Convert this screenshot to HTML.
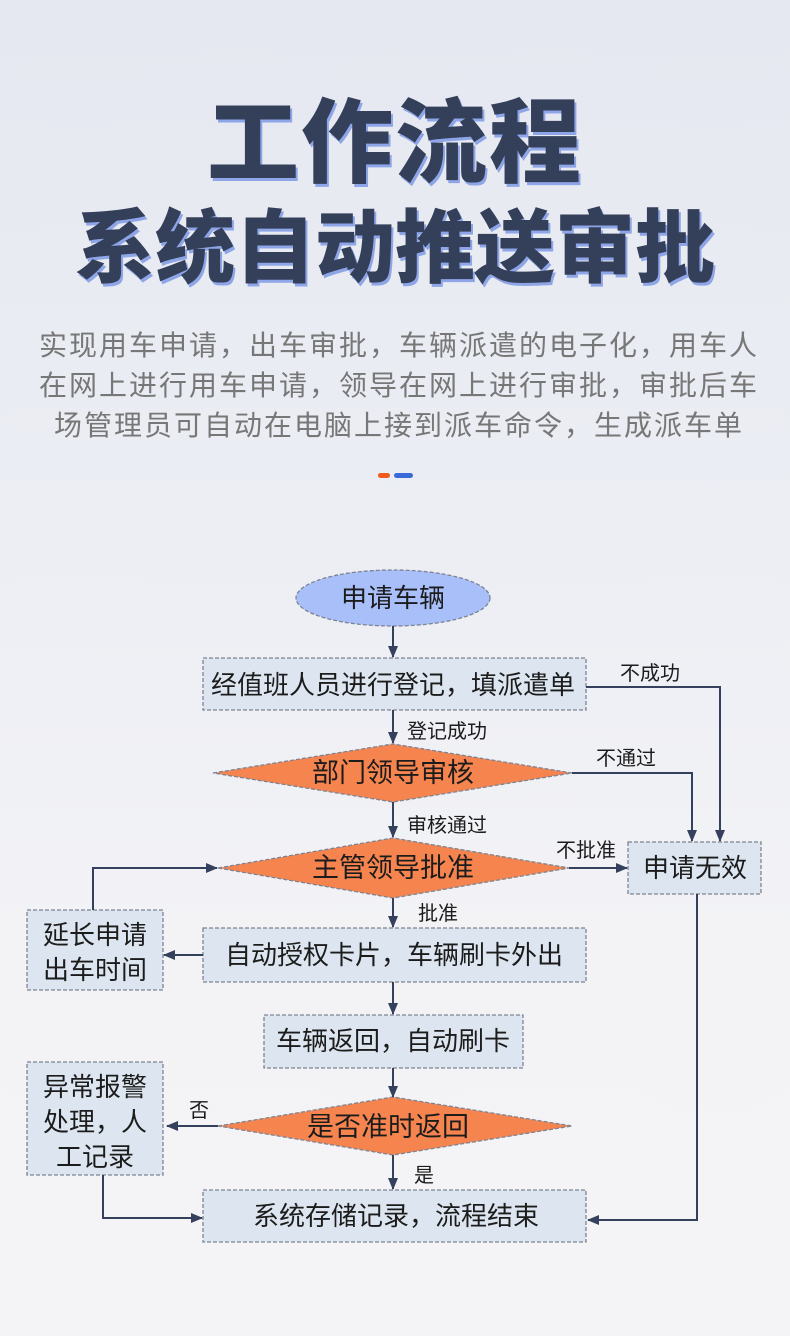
<!DOCTYPE html>
<html><head><meta charset="utf-8"><style>
html,body{margin:0;padding:0}
body{width:790px;height:1336px;overflow:hidden;background:linear-gradient(#e6e8f1 0%,#eceef4 40%,#f3f3f6 70%,#f4f4f6 100%);font-family:"Liberation Sans","Noto Sans CJK SC",sans-serif;position:relative}
.t{position:absolute;left:0;width:790px;text-align:center;color:#343f5a;font-family:"Noto Sans CJK SC",sans-serif;font-weight:900;text-shadow:2px 3px 0 #8ea6e8;white-space:nowrap}
.p{position:absolute;left:4px;width:790px;text-align:center;color:#777;font-size:28px;line-height:40px;top:326px;font-family:"Liberation Sans","Noto Sans CJK SC",sans-serif;letter-spacing:2px;white-space:nowrap}
</style></head><body>
<div class="t" style="top:76px;font-size:92px;line-height:120px;letter-spacing:2px">工作流程</div>
<div class="t" style="top:187px;font-size:80px;line-height:110px;letter-spacing:0px">系统自动推送审批</div>
<div class="p">实现用车申请，出车审批，车辆派遣的电子化，用车人<br>在网上进行用车申请，领导在网上进行审批，审批后车<br>场管理员可自动在电脑上接到派车命令，生成派车单</div>
<div style="position:absolute;left:378px;top:473px;width:12px;height:5px;border-radius:3px;background:#f05a1e"></div>
<div style="position:absolute;left:394px;top:473px;width:19px;height:5px;border-radius:3px;background:#3a6ad8"></div>
<svg width="790" height="1336" style="position:absolute;left:0;top:0" font-family="Liberation Sans, Noto Sans CJK SC, sans-serif">
<defs><marker id="a" markerWidth="12" markerHeight="10" refX="11" refY="5" orient="auto" markerUnits="userSpaceOnUse"><path d="M0,0 L12,5 L0,10 z" fill="#34405c"/></marker></defs>
<g fill="#dde6f0" stroke="#7c8494" stroke-width="1.3" stroke-dasharray="4,2">
<ellipse cx="393" cy="598" rx="97" ry="28" fill="#a9bffa"/>
<rect x="203" y="658" width="383" height="52"/>
<polygon points="213,773 393,744 572,773 393,802" fill="#f6844f"/>
<polygon points="218,868 393,838 569,868 393,898" fill="#f6844f"/>
<rect x="628" y="842" width="133" height="52"/>
<rect x="203" y="928" width="383" height="54"/>
<rect x="27" y="910" width="136" height="80"/>
<rect x="264" y="1015" width="259" height="53"/>
<polygon points="218,1126 393,1097 572,1126 393,1155" fill="#f6844f"/>
<rect x="27" y="1062" width="136" height="113"/>
<rect x="203" y="1190" width="383" height="52"/>
</g>
<g stroke="#34405c" stroke-width="2" fill="none" marker-end="url(#a)">
<path d="M393,626V657"/><path d="M393,710V743"/><path d="M393,802V837"/><path d="M393,898V927"/>
<path d="M393,982V1014"/><path d="M393,1068V1097"/><path d="M393,1155V1189"/>
<path d="M586,687H720V841"/><path d="M572,773H692V841"/><path d="M569,868H627"/>
<path d="M697,894V1220H588"/><path d="M203,955H164"/><path d="M93,910V868H217"/>
<path d="M218,1126H167"/><path d="M103,1175V1218H202"/>
</g>
<g fill="#1c1c1c" font-size="26" text-anchor="middle">
<text x="393" y="607">申请车辆</text>
<text x="393" y="694">经值班人员进行登记，填派遣单</text>
<text x="393" y="782" font-size="27">部门领导审核</text>
<text x="393" y="877" font-size="27">主管领导批准</text>
<text x="695" y="877">申请无效</text>
<text x="394" y="964">自动授权卡片，车辆刷卡外出</text>
<text x="95" y="944">延长申请</text>
<text x="95" y="979">出车时间</text>
<text x="393" y="1050">车辆返回，自动刷卡</text>
<text x="388" y="1136" font-size="27">是否准时返回</text>
<text x="95" y="1096">异常报警</text>
<text x="95" y="1131">处理，人</text>
<text x="95" y="1166">工记录</text>
<text x="396" y="1225">系统存储记录，流程结束</text>
</g>
<g fill="#1c1c1c" font-size="20">
<text x="407" y="738">登记成功</text>
<text x="407" y="832">审核通过</text>
<text x="620" y="680">不成功</text>
<text x="596" y="765">不通过</text>
<text x="556" y="857">不批准</text>
<text x="418" y="920">批准</text>
<text x="189" y="1117">否</text>
<text x="414" y="1182">是</text>
</g>
</svg>
</body></html>
